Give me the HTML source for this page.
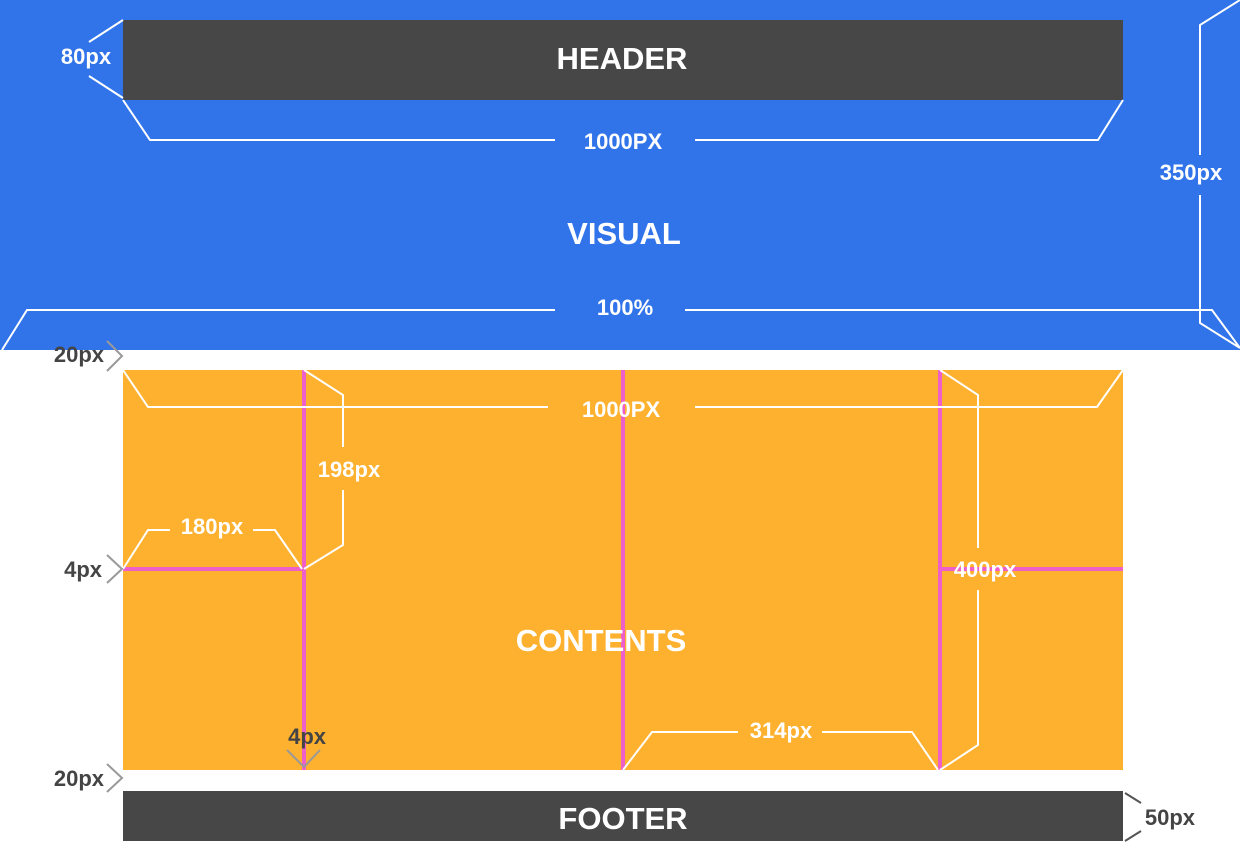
<!DOCTYPE html>
<html><head><meta charset="utf-8"><style>
html,body{margin:0;padding:0;background:#fff;width:1240px;height:868px;overflow:hidden}
svg{display:block}
text{font-family:"Liberation Sans",sans-serif;font-weight:bold}
</style></head><body>
<svg width="1240" height="868" viewBox="0 0 1240 868">
<rect x="0" y="0" width="1240" height="350" fill="#3174ea"/>
<rect x="123" y="20" width="1000" height="80" fill="#474747"/>
<rect x="123" y="370" width="1000" height="400" fill="#feb12f"/>
<rect x="123" y="791" width="1000" height="50" fill="#474747"/>
<g fill="#ee5fc9">
<rect x="302" y="370" width="4" height="400"/>
<rect x="621" y="370" width="4" height="400"/>
<rect x="938" y="370" width="4" height="400"/>
<rect x="123" y="567" width="181" height="4"/>
<rect x="940" y="567" width="183" height="4"/>
</g>
<g fill="none" stroke="#fff" stroke-width="2">
<polyline points="123,20 89,42"/><polyline points="89,76 123,98"/>
<polyline points="123,100 150,140 555,140"/><polyline points="695,140 1098,140 1123,100"/>
<polyline points="1240,0 1200,25 1200,155"/><polyline points="1200,195 1200,323 1240,348"/>
<polyline points="2,350 27,310 555,310"/><polyline points="685,310 1212,310 1240,348"/>
<polyline points="123,370 148,407 548,407"/><polyline points="695,407 1097,407 1123,370"/>
<polyline points="304,370 343,395 343,447"/><polyline points="343,490 343,545 304,569"/>
<polyline points="123,569 148,530 170,530"/><polyline points="253,530 275,530 302,569"/>
<polyline points="940,370 978,395 978,548"/><polyline points="978,590 978,745 940,770"/>
<polyline points="623,770 652,732 738,732"/><polyline points="822,732 912,732 938,770"/>
</g>
<g fill="none" stroke="#999" stroke-width="2">
<polyline points="107,341 122,356 107,371"/>
<polyline points="107,555 122,569 107,583"/>
<polyline points="107,764 122,778 107,792"/>
<polyline points="287,750 304,767 320,750"/>
<polyline points="1125,793 1141,803" stroke="#555"/><polyline points="1141,831 1125,841" stroke="#555"/>
</g>
<g fill="#fff" text-anchor="middle">
<text x="622" y="69" font-size="31">HEADER</text>
<text x="624" y="244" font-size="31">VISUAL</text>
<text x="601" y="651" font-size="31">CONTENTS</text>
<text x="623" y="829" font-size="31">FOOTER</text>
<text x="623" y="149" font-size="22">1000PX</text>
<text x="625" y="315" font-size="22">100%</text>
<text x="621" y="417" font-size="22">1000PX</text>
<text x="86" y="64" font-size="22">80px</text>
<text x="1191" y="180" font-size="22">350px</text>
<text x="349" y="477" font-size="22">198px</text>
<text x="212" y="534" font-size="22">180px</text>
<text x="985" y="577" font-size="22">400px</text>
<text x="781" y="738" font-size="22">314px</text>
</g>
<g fill="#444" text-anchor="end" font-size="22">
<text x="104" y="362">20px</text>
<text x="102" y="577">4px</text>
<text x="104" y="786">20px</text>
<text x="326" y="744">4px</text>
<text x="1195" y="825">50px</text>
</g>
</svg>
</body></html>
